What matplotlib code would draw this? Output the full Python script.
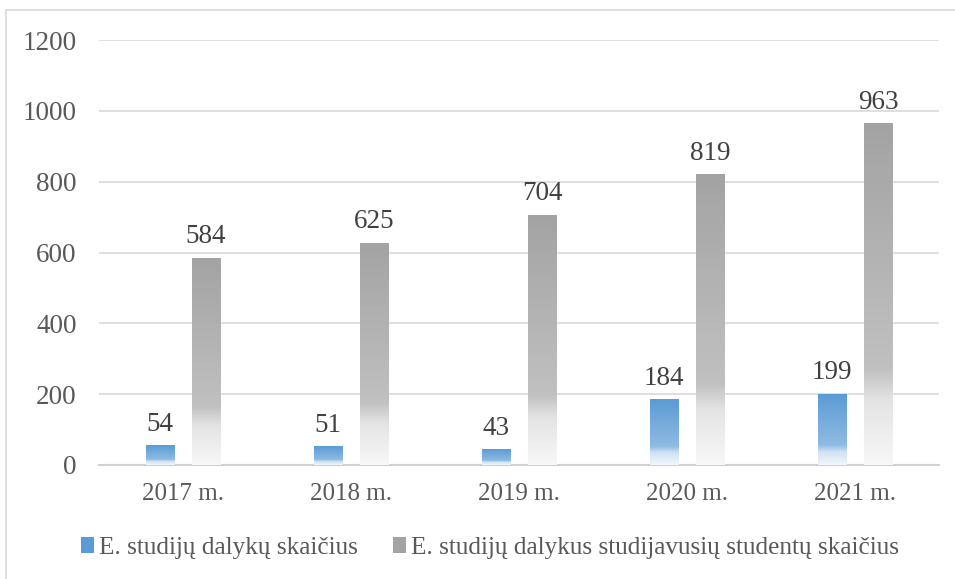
import numpy as np
import matplotlib.pyplot as plt
from matplotlib.colors import to_rgb
from matplotlib.patches import Patch, Rectangle

# Duomenys
metai = ["2017 m.", "2018 m.", "2019 m.", "2020 m.", "2021 m."]
dalykai = [54, 51, 43, 184, 199]
studentai = [584, 625, 704, 819, 963]
serijos = ["E. studijų dalykų skaičius",
           "E. studijų dalykus studijavusių studentų skaičius"]

melyna = "#5b9bd5"
pilka = "#a3a3a3"

plt.rcParams['font.family'] = ['Liberation Serif', 'DejaVu Serif']


def gradientas(spalva, n=300):
    # spalva virsuje -> beveik balta apacioje
    c = np.array(to_rgb(spalva))
    w = np.ones(3)
    stops = [(0.0, 1.0), (0.72, 0.68), (0.81, 0.3), (1.0, 0.08)]
    t = np.linspace(0, 1, n)  # nuo virsaus
    k = np.interp(t, [s[0] for s in stops], [s[1] for s in stops])
    rgb = w * (1 - k[:, None]) + c * k[:, None]
    return rgb[::-1][:, None, :]  # apacia pirma (origin lower)


fig = plt.figure(figsize=(9.55, 5.79), dpi=100)
ax = fig.add_axes([99 / 955, 114 / 579, 840 / 955, 425 / 579])

x = np.arange(len(metai))
plotis = 0.167
poslinkis = 0.137

for i in range(len(metai)):
    for val, dx, sp in [(dalykai[i], -poslinkis, melyna), (studentai[i], poslinkis, pilka)]:
        x0 = x[i] + dx - plotis / 2
        ax.imshow(gradientas(sp), extent=[x0, x0 + plotis, 0, val],
                  origin='lower', aspect='auto', zorder=3, interpolation='bilinear')
        ax.text(x[i] + dx, val + 26, str(val), ha='center', va='bottom',
                fontsize=19.5, color='#404040', zorder=4)

ax.set_xlim(-0.5, len(metai) - 0.5)
ax.set_ylim(0, 1200)
ax.set_yticks(range(0, 1201, 200))
ax.set_xticks(x)
ax.set_xticklabels(metai, fontsize=18)
ax.tick_params(axis='both', length=0, labelcolor='#595959')
ax.tick_params(axis='y', pad=16, labelsize=19.5)
ax.tick_params(axis='x', pad=13)
ax.grid(axis='y', color='#d9d9d9', linewidth=1.2, zorder=0)
ax.set_axisbelow(True)
for s in ['top', 'right', 'left']:
    ax.spines[s].set_visible(False)
ax.spines['bottom'].set_color('#d0d0d0')
ax.spines['bottom'].set_linewidth(1.5)

rankos = [Patch(facecolor=melyna, edgecolor='none'),
          Patch(facecolor=pilka, edgecolor='none')]
fig.legend(rankos, serijos, loc='center', bbox_to_anchor=(490 / 955, 1 - 548 / 579),
           ncol=2, frameon=False, fontsize=18.2, labelcolor='#595959',
           handlelength=0.5, handleheight=0.55, handletextpad=0.2, columnspacing=1.4)

# remelis aplink diagrama
fig.patches.append(Rectangle((6 / 955, -0.05), 1.2, 1 - 10 / 579 + 0.05,
                             transform=fig.transFigure, fill=False,
                             edgecolor='#d9d9d9', linewidth=1.2))

fig.savefig("out.png", dpi=100, facecolor='white')
